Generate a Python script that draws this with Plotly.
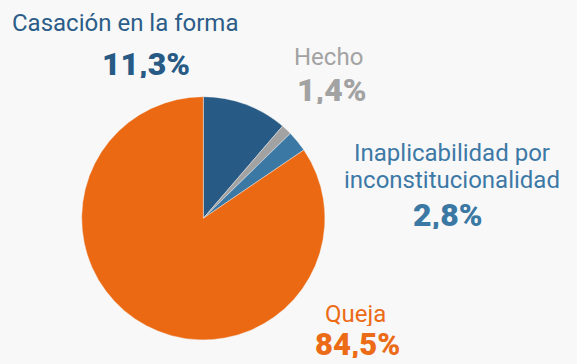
import plotly.graph_objects as go

# Distribution of appeal types (percent)
categories = ["Casación en la forma", "Hecho", "Inaplicabilidad por inconstitucionalidad", "Queja"]
values = [11.3, 1.4, 2.8, 84.5]
label_lines = [["Casación en la forma"], ["Hecho"], ["Inaplicabilidad por", "inconstitucionalidad"], ["Queja"]]
slice_colors = ["#275a84", "#a2a2a2", "#3c78a4", "#eb6912"]
text_colors = ["#2c5d88", "#a3a3a3", "#3d79a6", "#ec6b16"]

W, H = 577, 364
BG = "#f8f8f8"


def px(x):
    return x / W


def py(y):
    return 1 - y / H


fig = go.Figure()

# Pie centred at (203, 218) px with radius ~122 px
cx, cy, r = 203.3, 218.3, 121.6
fig.add_trace(go.Pie(
    labels=categories,
    values=values,
    sort=False,
    direction="clockwise",
    rotation=0,
    marker=dict(colors=slice_colors, line=dict(color=BG, width=0.4)),
    textinfo="none",
    hoverinfo="label+percent",
    showlegend=False,
    domain=dict(x=[px(cx - r), px(cx + r)], y=[py(cy + r), py(cy - r)]),
))

# Label positions (centre of first name line, value centre) in pixels
name_pos = [(125, 23), (328, 57), (452, 153), (355, 314)]
value_pos = [(146, 64), (331, 90), (447, 215), (357, 344)]
value_sizes = [32, 32, 32, 31]
line_step = 27

for i in range(len(categories)):
    nx, ny = name_pos[i]
    for k, line in enumerate(label_lines[i]):
        fig.add_annotation(
            x=px(nx), y=py(ny + k * line_step), xref="paper", yref="paper",
            text=line, showarrow=False,
            xanchor="center", yanchor="middle", align="center", valign="middle",
            height=24,
            font=dict(family="Roboto", size=24, color=text_colors[i]),
        )
    vx, vy = value_pos[i]
    fig.add_annotation(
        x=px(vx), y=py(vy), xref="paper", yref="paper",
        text=f"{values[i]:.1f}%".replace(".", ","), showarrow=False,
        xanchor="center", yanchor="middle", valign="middle",
        height=28,
        font=dict(family="Roboto", size=value_sizes[i],
                  color=slice_colors[i] if i != 3 else text_colors[i], weight=900),
    )

fig.update_layout(
    width=W, height=H,
    margin=dict(l=0, r=0, t=0, b=0),
    paper_bgcolor=BG,
    plot_bgcolor=BG,
)

fig.write_html("out.html")
